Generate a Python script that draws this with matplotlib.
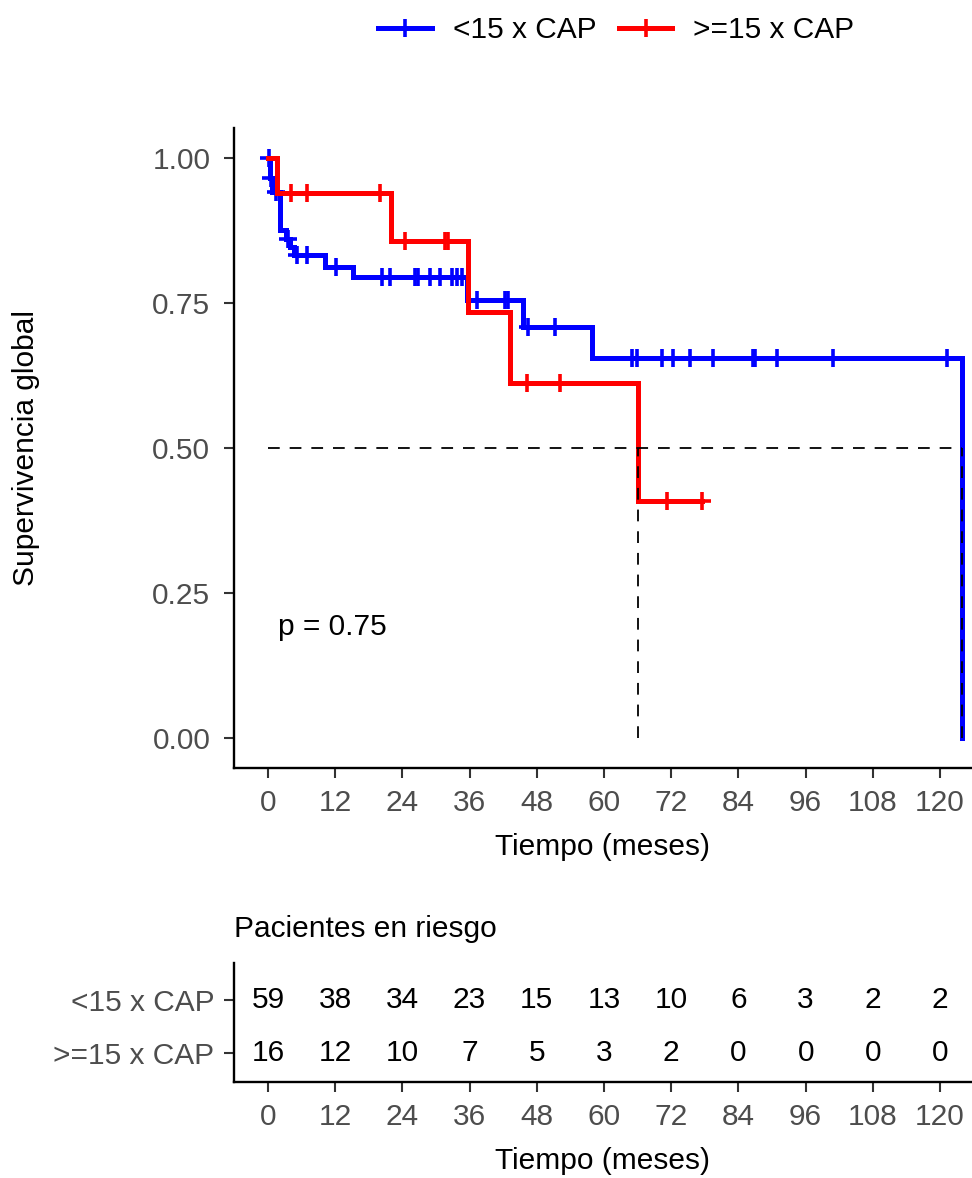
import numpy as np
import matplotlib
matplotlib.use("Agg")
import matplotlib.pyplot as plt
from matplotlib.lines import Line2D

plt.rcParams["font.family"] = ["Liberation Sans", "DejaVu Sans"]
FS = 21.5

# Kaplan-Meier step data
groups = ["<15 x CAP", ">=15 x CAP"]
colors = ["#0000FF", "#FF0000"]

blue_t = [0, 0.3, 0.8, 2.2, 3.3, 4.0, 4.7, 10.2, 15.2, 35.6, 45.5, 57.9, 123.9]
blue_s = [1.0, 0.966, 0.941, 0.876, 0.861, 0.847, 0.833, 0.812, 0.795, 0.755, 0.709, 0.655, 0.0]
blue_cens = [0.2, 0.5, 1.4, 3.6, 5.2, 7.0, 12.1, 20.3, 21.8, 26.3, 26.8, 28.9, 30.7,
             32.8, 33.7, 34.6, 37.3, 42.3, 42.9, 46.4, 51.3, 65.0, 65.9, 70.4, 72.3,
             75.4, 79.5, 86.6, 87.0, 90.9, 100.9, 121.2]

red_t = [0, 1.7, 21.9, 35.7, 43.3, 66.0, 77.5]
red_s = [1.0, 0.94, 0.857, 0.735, 0.612, 0.408, 0.408]
red_cens = [4.1, 7.0, 20.0, 24.5, 31.6, 32.1, 46.3, 52.1, 71.3, 77.5]

p_value = "p = 0.75"

# risk table
risk_times = [0, 12, 24, 36, 48, 60, 72, 84, 96, 108, 120]
risk_blue = [59, 38, 34, 23, 15, 13, 10, 6, 3, 2, 2]
risk_red = [16, 12, 10, 7, 5, 3, 2, 0, 0, 0, 0]

fig = plt.figure(figsize=(9.72, 11.78), dpi=100)
ax = fig.add_axes([0.2407, 0.3480, 0.7593, 0.5433])
ax2 = fig.add_axes([0.2407, 0.0815, 0.7593, 0.1010])

curves = [(blue_t, blue_s, blue_cens), (red_t, red_s, red_cens)]
medians = []
for (t, s, cens), col in zip(curves, colors):
    t = np.array(t)
    s = np.array(s)
    ax.plot(t, s, drawstyle="steps-post", color=col, lw=3.6, zorder=3,
            solid_joinstyle="miter")
    idx = np.searchsorted(t, cens, side="right") - 1
    ax.plot(cens, s[idx], ls="none", marker="+", ms=13, mew=2.6, color=col, zorder=3)
    below = np.where(s <= 0.5)[0]
    if len(below):
        medians.append(t[below[0]])

# median lines
dash = dict(color="black", lw=1.3, dashes=(6.5, 5.5), zorder=4)
ax.plot([0, max(medians)], [0.5, 0.5], **dash)
for m in medians:
    ax.plot([m, m], [0, 0.5], **dash)

ax.text(1.8, 0.178, p_value, fontsize=FS, ha="left", va="baseline")

ticks = np.arange(0, 121, 12)
for a in (ax, ax2):
    a.set_xlim(-6.07, 125.7)
    a.set_xticks(ticks)
    a.spines["top"].set_visible(False)
    a.spines["right"].set_visible(False)
    for sp in ("left", "bottom"):
        a.spines[sp].set_linewidth(1.7)
    a.tick_params(length=7, width=1.5, color="#333333", labelcolor="#4D4D4D",
                  labelsize=FS)
    a.tick_params(axis="x", pad=8)
    a.set_xlabel("Tiempo (meses)", fontsize=FS)

ax.set_ylim(-0.0517, 1.0517)
ax.set_yticks([0, 0.25, 0.5, 0.75, 1.0])
ax.set_yticklabels(["0.00", "0.25", "0.50", "0.75", "1.00"])
ax.tick_params(axis="y", pad=10)
ax.set_ylabel("Supervivencia global", fontsize=FS)
ax.yaxis.set_label_coords(-0.263, 0.5)
ax.xaxis.set_label_coords(0.5, -0.1016)

ax2.set_ylim(0.453, 2.698)
ax2.set_yticks([2, 1])
ax2.set_yticklabels(groups)
ax2.tick_params(axis="y", pad=7)
ax2.xaxis.set_label_coords(0.5, -0.546)
for x, nb, nr in zip(risk_times, risk_blue, risk_red):
    ax2.text(x, 2, str(nb), fontsize=FS, ha="center", va="center")
    ax2.text(x, 1, str(nr), fontsize=FS, ha="center", va="center")

fig.text(0.2407, 1 - 937 / 1178, "Pacientes en riesgo", fontsize=FS,
         ha="left", va="baseline")

handles = [Line2D([], [], color=c, lw=3.6, marker="+", ms=13, mew=2.6) for c in colors]
fig.legend(handles, groups, loc="center", bbox_to_anchor=(0.634, 1 - 30 / 1178),
           ncol=2, frameon=False, fontsize=FS, handlelength=1.8,
           handletextpad=0.7, columnspacing=0.75, numpoints=1)

fig.savefig("out.png", dpi=100)
